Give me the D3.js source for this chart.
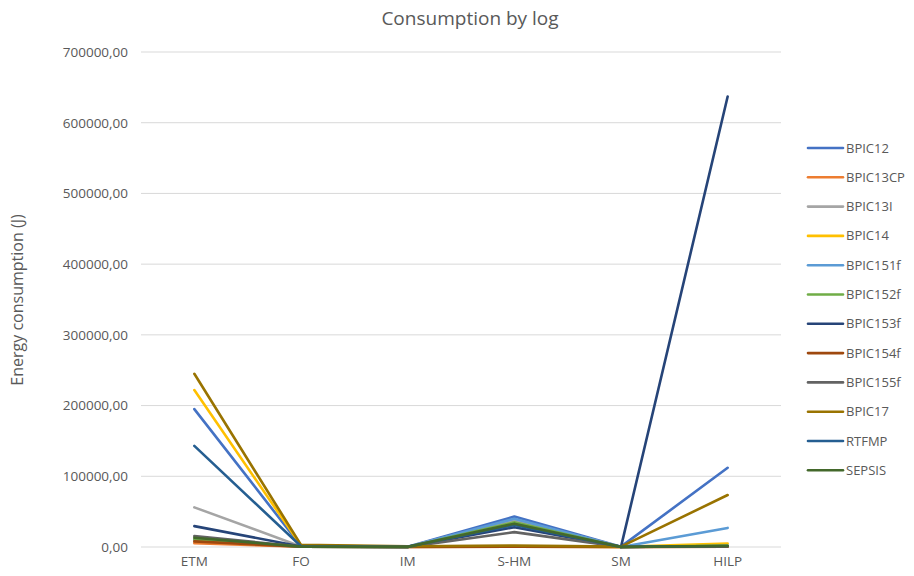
<!DOCTYPE html>
<html>
<head>
<meta charset="utf-8">
<script src="https://cdn.jsdelivr.net/npm/d3@7"></script>
<style>
  body { margin: 0; background: #fff; }
  svg { display: block; }
  text { font-family: "Open Sans", "Noto Sans", sans-serif; }
</style>
</head>
<body>
<svg id="chart" width="914" height="576"></svg>
<script>
// Energy consumption (J) per log and per measure
const categories = ["ETM", "FO", "IM", "S-HM", "SM", "HILP"];
const seriesNames = ["BPIC12", "BPIC13CP", "BPIC13I", "BPIC14", "BPIC151f", "BPIC152f",
                     "BPIC153f", "BPIC154f", "BPIC155f", "BPIC17", "RTFMP", "SEPSIS"];
const BPIC12   = [195000, 1500, 500, 43000, 500, 112000];
const BPIC13CP = [5500, 300, 100, 300, 100, 500];
const BPIC13I  = [56000, 800, 200, 38000, 200, 1000];
const BPIC14   = [222000, 2000, 300, 1000, 200, 5000];
const BPIC151f = [10000, 500, 100, 40000, 100, 27000];
const BPIC152f = [11000, 500, 100, 35000, 100, 2000];
const BPIC153f = [29500, 800, 200, 28000, 200, 637000];
const BPIC154f = [8000, 300, 100, 500, 100, 500];
const BPIC155f = [15500, 600, 200, 21000, 200, 1000];
const BPIC17   = [245000, 3000, 1000, 2000, 500, 73500];
const RTFMP    = [143000, 1000, 300, 31000, 200, 1500];
const SEPSIS   = [13000, 500, 200, 33000, 200, 1500];
const yTicks = [0, 100000, 200000, 300000, 400000, 500000, 600000, 700000];

const seriesValues = [BPIC12, BPIC13CP, BPIC13I, BPIC14, BPIC151f, BPIC152f,
                      BPIC153f, BPIC154f, BPIC155f, BPIC17, RTFMP, SEPSIS];
const colors = ["#4472C4", "#ED7D31", "#A5A5A5", "#FFC000", "#5B9BD5", "#70AD47",
                "#264478", "#9E480E", "#636363", "#997300", "#255E91", "#43682B"];

const svg = d3.select("#chart");
const plotLeft = 141, plotRight = 781, plotTop = 52, plotBottom = 547;

const x = d3.scaleBand().domain(categories).range([plotLeft, plotRight]);
const y = d3.scaleLinear().domain([0, 700000]).range([plotBottom, plotTop]);
const fmt = v => d3.format(".2f")(v).replace(".", ",");

// horizontal gridlines
svg.append("g")
  .selectAll("line").data(yTicks).join("line")
  .attr("x1", plotLeft).attr("x2", plotRight)
  .attr("y1", d => y(d)).attr("y2", d => y(d))
  .attr("stroke", "#d9d9d9").attr("stroke-width", 1);

// y axis labels
const yAxis = svg.append("g")
  .attr("transform", `translate(${plotLeft - 13},0)`)
  .call(d3.axisLeft(y).tickValues(yTicks).tickFormat(fmt).tickSize(0).tickPadding(0));
yAxis.select(".domain").remove();
yAxis.selectAll("text").attr("fill", "#595959").style("font-size", "13.5px")
  .style("font-family", "'Open Sans', sans-serif");

// x axis labels
const xAxis = svg.append("g")
  .attr("transform", `translate(0,${plotBottom + 9})`)
  .call(d3.axisBottom(x).tickSize(0).tickPadding(0));
xAxis.select(".domain").remove();
xAxis.selectAll("text").attr("fill", "#595959").style("font-size", "13.5px")
  .style("font-family", "'Open Sans', sans-serif");

// lines
const line = d3.line()
  .x((d, i) => x(categories[i]) + x.bandwidth() / 2)
  .y(d => y(d));

svg.append("g")
  .selectAll("path").data(seriesValues).join("path")
  .attr("d", d => line(d))
  .attr("fill", "none")
  .attr("stroke", (d, i) => colors[i])
  .attr("stroke-width", 2.6)
  .attr("stroke-linejoin", "round")
  .attr("stroke-linecap", "round");

// title
svg.append("text")
  .attr("x", 470).attr("y", 25)
  .attr("text-anchor", "middle")
  .attr("fill", "#595959")
  .style("font-size", "19px")
  .text("Consumption by log");

// y axis title
svg.append("text")
  .attr("transform", "translate(23,300) rotate(-90)")
  .attr("text-anchor", "middle")
  .attr("fill", "#595959")
  .style("font-size", "16px")
  .text("Energy consumption (J)");

// legend
const legend = svg.append("g")
  .selectAll("g").data(seriesNames).join("g")
  .attr("transform", (d, i) => `translate(808,${148 + i * 29.3})`);
legend.append("line")
  .attr("x1", 0).attr("x2", 35)
  .attr("stroke", (d, i) => colors[i])
  .attr("stroke-width", 2.6)
  .attr("stroke-linecap", "round");
legend.append("text")
  .attr("x", 38).attr("dy", "0.35em")
  .attr("fill", "#595959")
  .style("font-size", "13px")
  .text(d => d);
</script>
</body>
</html>
